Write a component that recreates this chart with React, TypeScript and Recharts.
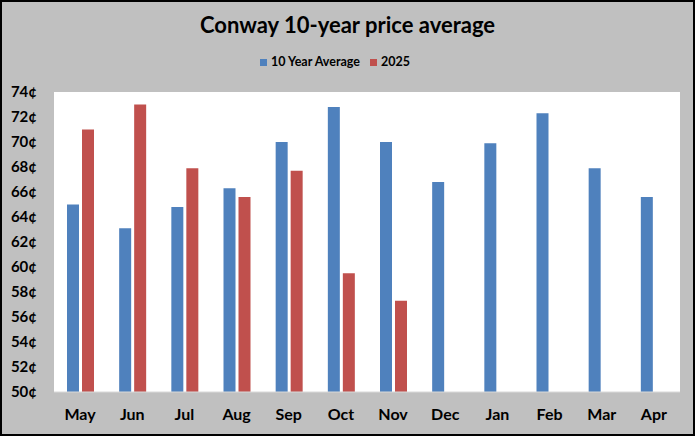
import { BarChart, Bar, XAxis, YAxis, CartesianGrid, Legend } from 'recharts';

const months = ['May', 'Jun', 'Jul', 'Aug', 'Sep', 'Oct', 'Nov', 'Dec', 'Jan', 'Feb', 'Mar', 'Apr'];
const tenYearAvg = [65.0, 63.1, 64.8, 66.3, 70.0, 72.8, 70.0, 66.8, 69.9, 72.3, 67.9, 65.6];
const price2025 = [71.0, 73.0, 67.9, 65.6, 67.7, 59.5, 57.3, null, null, null, null, null];
const yTicks = [50, 52, 54, 56, 58, 60, 62, 64, 66, 68, 70, 72, 74];

const data = months.map((m, i) => ({ month: m, avg: tenYearAvg[i], y2025: price2025[i] }));

const FONT = 'Lato, "Open Sans", sans-serif';

export default function App() {
    return (
        <div style={{ position: 'absolute', left: 0, top: 0, width: 695, height: 436, background: '#c0c0c0', fontFamily: FONT }}>
            <div style={{ position: 'absolute', top: 11, left: 0, width: 695, textAlign: 'center', fontSize: 22, fontWeight: 'bold', color: '#000' }}>
                Conway 10-year price average
            </div>
            <BarChart width={695} height={436} data={data} margin={{ top: 77, right: 15, left: 0, bottom: 14 }} barGap={3} barSize={12}>
                <CartesianGrid fill="#ffffff" stroke="none" horizontal={false} vertical={false} />
                <XAxis
                    dataKey="month"
                    height={30}
                    axisLine={{ stroke: '#d9d9d9' }}
                    tickLine={false}
                    tickMargin={11}
                    tick={{ fill: '#000', fontSize: 16, fontWeight: 'bold', fontFamily: FONT }}
                />
                <YAxis
                    width={54}
                    domain={[50, 74]}
                    ticks={yTicks}
                    interval={0}
                    axisLine={false}
                    tickLine={false}
                    tickMargin={11}
                    tickFormatter={(v) => `${v}¢`}
                    tick={{ fill: '#000', fontSize: 15, fontWeight: 'bold', fontFamily: FONT }}
                />
                <Legend
                    verticalAlign="top"
                    align="center"
                    iconType="square"
                    iconSize={7}
                    wrapperStyle={{ top: 54, fontSize: 12.5, fontWeight: 'bold' }}
                    formatter={(value) => <span style={{ color: '#000' }}>{value}</span>}
                />
                <Bar dataKey="avg" name="10 Year Average" fill="#4f81bd" isAnimationActive={false} />
                <Bar dataKey="y2025" name="2025" fill="#c0504d" isAnimationActive={false} />
            </BarChart>
            <div style={{ position: 'absolute', left: 0, top: 0, width: 695, height: 436, boxSizing: 'border-box', border: '2px solid #000', pointerEvents: 'none' }} />
        </div>
    );
}
